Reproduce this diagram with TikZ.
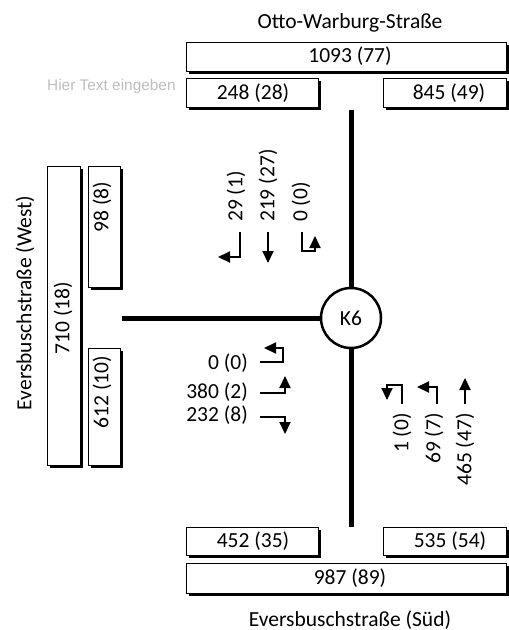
\documentclass[tikz,border=0pt]{standalone}
\usepackage{fontspec}
\setmainfont{Carlito}
\newfontfamily\arialfont{Liberation Sans}
\usetikzlibrary{shadows,arrows.meta}
\begin{document}
\begin{tikzpicture}[x=1pt,y=-1pt,
  box/.style={draw, line width=1.3pt, fill=white, inner sep=0pt, anchor=north west,
    drop shadow={shadow xshift=2.2pt, shadow yshift=-2.2pt, fill=black, opacity=1}},
  lbl/.style={inner sep=0pt, font=\fontsize{21.5}{26}\selectfont},
  vlbl/.style={lbl, rotate=90},
  road/.style={line width=5pt},
  turn/.style={line width=2pt, -{Triangle[length=12pt,width=11pt]}},
  every node/.style={text=black}]
\useasboundingbox (0,0) rectangle (509,630);
% top
\node[lbl, anchor=base] (otto) at (350,28) {Otto-Warburg-Straße};
\node[box, minimum width=320pt, minimum height=29pt] (btop) at (186,42) {};
\node[lbl] (ttop) at (350,56) {1093 (77)};
\node[box, minimum width=132pt, minimum height=29pt] (bnl) at (186,78) {};
\node[lbl] (tnl) at (253,93) {248 (28)};
\node[box, minimum width=123pt, minimum height=29pt] (bnr) at (383,78) {};
\node[lbl] (tnr) at (449,93) {845 (49)};
\node[inner sep=0pt, anchor=base west, font=\arialfont\fontsize{15.4}{18}\selectfont, text={rgb,255:red,190;green,190;blue,190}] (hier) at (47,90) {Hier Text eingeben};
% left
\node[vlbl] (west) at (25,303) {Eversbuschstraße (West)};
\node[box, minimum width=33pt, minimum height=299pt] (bw) at (47,166) {};
\node[vlbl] (tw) at (63,318) {710 (18)};
\node[box, minimum width=32pt, minimum height=121pt] (bwt) at (88,166) {};
\node[vlbl] (twt) at (102,207) {98 (8)};
\node[box, minimum width=32pt, minimum height=117pt] (bwb) at (88,348) {};
\node[vlbl] (twb) at (102,392) {612 (10)};
% bottom
\node[box, minimum width=132pt, minimum height=28pt] (bsl) at (186,527) {};
\node[lbl] (tsl) at (253,541) {452 (35)};
\node[box, minimum width=123pt, minimum height=28pt] (bsr) at (383,527) {};
\node[lbl] (tsr) at (450,541) {535 (54)};
\node[box, minimum width=320pt, minimum height=30pt] (bbot) at (186,563) {};
\node[lbl] (tbot) at (350,578) {987 (89)};
\node[lbl, anchor=base] (sued) at (350,626) {Eversbuschstraße (Süd)};
% intersection
\node[circle, draw, line width=2.5pt, minimum size=60pt, inner sep=0pt, font=\fontsize{21.5}{26}\selectfont] (k6) at (351,318) {K6};
\coordinate (rn) at (351,110);
\coordinate (rw) at (122,318);
\coordinate (rs) at (351,527);
\draw[road] (rn) -- (k6.north);
\draw[road] (rw) -- (k6.west);
\draw[road] (k6.south) -- (rs);
% north approach
\node[vlbl, anchor=west] (n1) at (236,222) {29 (1)};
\node[vlbl, anchor=west] (n2) at (268,222) {219 (27)};
\node[vlbl, anchor=west] (n3) at (301,222) {0 (0)};
\draw[turn] (240,232) -- (240,257) -- (218,257);
\draw[turn] (268,232) -- (268,263);
\draw[turn] (302,232) -- (302,251) -- (315,251) -- (315,236);
% west approach
\node[lbl, anchor=east] (w1) at (248,363) {0 (0)};
\node[lbl, anchor=east] (w2) at (248,392) {380 (2)};
\node[lbl, anchor=east] (w3) at (248,415) {232 (8)};
\draw[turn] (260,362) -- (283,362) -- (283,348) -- (264,348);
\draw[turn] (260,393) -- (285,393) -- (285,376);
\draw[turn] (260,417) -- (285,417) -- (285,434);
% south approach
\node[vlbl, anchor=east] (s1) at (402,413) {1 (0)};
\node[vlbl, anchor=east] (s2) at (434,413) {69 (7)};
\node[vlbl, anchor=east] (s3) at (465,413) {465 (47)};
\draw[turn] (402,404) -- (402,385) -- (387,385) -- (387,400);
\draw[turn] (437,404) -- (437,387) -- (417,387);
\draw[turn] (465,404) -- (465,378);
\end{tikzpicture}
\end{document}
